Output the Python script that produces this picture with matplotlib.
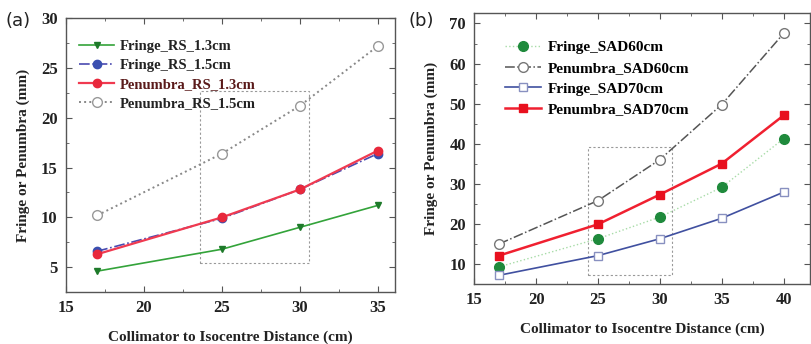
import matplotlib.pyplot as plt
from matplotlib.ticker import MultipleLocator
from matplotlib.patches import Rectangle

# panel (a): range shifter thickness
dist_a = [17, 25, 30, 35]
fringe_rs13 = [4.6, 6.8, 9.0, 11.2]
fringe_rs15 = [6.6, 9.9, 12.8, 16.4]
penumbra_rs13 = [6.3, 10.0, 12.8, 16.7]
penumbra_rs15 = [10.2, 16.4, 21.2, 27.2]

# panel (b): source to axis distance
dist_b = [17, 25, 30, 35, 40]
fringe_sad60 = [9.4, 16.4, 21.8, 29.2, 41.3]
penumbra_sad60 = [15.1, 25.9, 36.1, 49.8, 67.5]
fringe_sad70 = [7.3, 12.2, 16.4, 21.5, 28.0]
penumbra_sad70 = [12.2, 20.0, 27.4, 35.1, 47.1]

serif = 'Liberation Serif'
xlabel = 'Collimator to Isocentre Distance (cm)'
ylabel = 'Fringe or Penumbra (mm)'

fig = plt.figure(figsize=(8.12, 3.44), dpi=100)
ax1 = fig.add_axes([0.0813, 0.151, 0.405, 0.796])
ax2 = fig.add_axes([0.584, 0.174, 0.413, 0.787])


def style(ax):
    for s in ax.spines.values():
        s.set_color('#555555')
        s.set_linewidth(1.0)
    ax.tick_params(which='both', direction='in', top=True, right=True,
                   colors='#555555', labelcolor='#222222')
    ax.tick_params(which='major', length=4, pad=6)
    ax.tick_params(which='minor', length=2)
    for lab in ax.get_xticklabels() + ax.get_yticklabels():
        lab.set_fontfamily(serif)
        lab.set_fontweight('bold')
        lab.set_fontsize(12)
    ax.set_xlabel(xlabel, fontfamily=serif, fontweight='bold', fontsize=11,
                  color='#222222', labelpad=10)
    ax.set_ylabel(ylabel, fontfamily=serif, fontweight='bold', fontsize=11,
                  color='#222222', labelpad=8)


# --- (a)
ax1.plot(dist_a, fringe_rs13, color='#33a33a', lw=1.2, marker='v', ms=4.5,
         mfc='#1e7a2a', mec='#1e7a2a', label='Fringe_RS_1.3cm')
ax1.plot(dist_a, fringe_rs15, color='#4a4ab0', lw=1.2, ls='-.', marker='o', ms=6,
         mfc='#3a4fb0', mec='#3a4fb0', label='Fringe_RS_1.5cm')
ax1.plot(dist_a, penumbra_rs13, color='#f03a50', lw=1.6, marker='o', ms=6,
         mfc='#e8283c', mec='#e8283c', label='Penumbra_RS_1.3cm')
ax1.plot(dist_a, penumbra_rs15, color='#888888', lw=1.4, ls=':', marker='o', ms=7,
         mfc='white', mec='#999999', label='Penumbra_RS_1.5cm')
ax1.add_patch(Rectangle((23.6, 5.4), 7.0, 17.3, fill=False, ls=(0, (2, 2)),
                        lw=0.8, ec='#999999'))
ax1.set_xlim(15, 36.1)
ax1.set_ylim(2.5, 30)
ax1.xaxis.set_major_locator(MultipleLocator(5))
ax1.xaxis.set_minor_locator(MultipleLocator(2.5))
ax1.yaxis.set_major_locator(MultipleLocator(5))
ax1.yaxis.set_minor_locator(MultipleLocator(2.5))
style(ax1)
leg1 = ax1.legend(loc='upper left', bbox_to_anchor=(0.0, 0.97), frameon=False,
                  handlelength=2.4, handletextpad=0.4, labelspacing=0.4,
                  prop={'family': serif, 'weight': 'bold', 'size': 10.5})
for t, c in zip(leg1.get_texts(), ['#222222', '#222222', '#5a1a1a', '#222222']):
    t.set_color(c)

# --- (b)
ax2.plot(dist_b, fringe_sad60, color='#a8dca8', lw=1.0, ls=':', marker='o', ms=7,
         mfc='#1f8a3c', mec='#1f8a3c', label='Fringe_SAD60cm')
ax2.plot(dist_b, penumbra_sad60, color='#555555', lw=1.1, ls='-.', marker='o', ms=7,
         mfc='white', mec='#777777', label='Penumbra_SAD60cm')
ax2.plot(dist_b, fringe_sad70, color='#4050a0', lw=1.2, marker='s', ms=6,
         mfc='white', mec='#8890c0', label='Fringe_SAD70cm')
ax2.plot(dist_b, penumbra_sad70, color='#f02030', lw=1.8, marker='s', ms=6,
         mfc='#e8101e', mec='#e8101e', label='Penumbra_SAD70cm')
ax2.add_patch(Rectangle((24.2, 7.3), 6.8, 32.0, fill=False, ls=(0, (2, 2)),
                        lw=0.8, ec='#999999'))
ax2.set_xlim(15, 42.1)
ax2.set_ylim(5.1, 72.5)
ax2.xaxis.set_major_locator(MultipleLocator(5))
ax2.xaxis.set_minor_locator(MultipleLocator(2.5))
ax2.yaxis.set_major_locator(MultipleLocator(10))
ax2.yaxis.set_minor_locator(MultipleLocator(5))
style(ax2)
ax2.legend(loc='upper left', bbox_to_anchor=(0.05, 0.95), frameon=False,
           handlelength=2.4, handletextpad=0.4, labelspacing=0.45,
           prop={'family': serif, 'weight': 'bold', 'size': 11})

fig.text(0.007, 0.965, '(a)', fontsize=13, family='DejaVu Sans', va='top', color='#222222')
fig.text(0.503, 0.965, '(b)', fontsize=13, family='DejaVu Sans', va='top', color='#222222')

fig.savefig('out.png', dpi=100)
